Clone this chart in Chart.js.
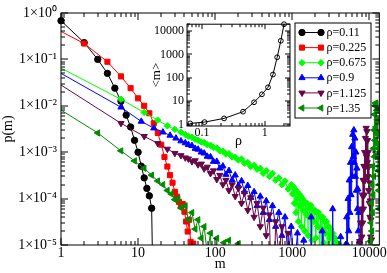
<!DOCTYPE html>
<html>
<head>
<meta charset="utf-8">
<script src="https://cdn.jsdelivr.net/npm/chart.js@4.4.1/dist/chart.umd.min.js"></script>
<style>
  body { margin: 0; background: #fff; }
  #wrap { position: relative; width: 387px; height: 273px; }
  #main { position: absolute; left: 0; top: 0; }
  #inset { position: absolute; left: 140px; top: 14px; }
</style>
</head>
<body>
<div id="wrap">
  <canvas id="main" width="387" height="273"></canvas>
  <canvas id="inset" width="155" height="136"></canvas>
</div>
<script>
// p(m) for each density
const m011 = [1,2,3,4,5,6,7,8,9,10,11,12,13,14,15,16];
const p011 = [0.68,0.23,0.10,0.050,0.024,0.0126,0.0063,0.0035,0.0018,0.0010,5.0e-4,2.8e-4,1.66e-4,1.15e-4,6.2e-5,1e-7];

const m0225 = [1,2,4,6,8,10,12,14,16,18,20,22,24,26,28,30,32,34,36,38,40,42,44,46,48,50,52,55];
const p0225 = [0.40,0.22,0.089,0.043,0.024,0.0145,0.010,0.0069,0.0042,0.0026,0.00145,7.9e-4,4.9e-4,3.2e-4,2.2e-4,1.4e-4,1.1e-4,8.5e-5,6.8e-5,7.6e-5,5.2e-5,3.2e-5,1.95e-5,3.5e-5,1.17e-5,5e-6,1.07e-5,1e-7];

const m0675 = [1,6,12,18,24,30,36,41,45,50,55,60,66,72,79,87,95,105,115,126,138,151,166,182,200,220,240,265,290,320,350,385,420,460,505,555,610,670,735,805,885,970,
    1010,1040,1065,1090,1120,1150,1170,1200,1230,1260,1290,1320,1350,1380,1410,1450,1490,1530,1570,1610,1650,1700,1750,1800,1850,1900,1960,2020,2080,2140,2200,2270,2340,2410,2480,2560,2640,2720,2800,2890,2980,3070,3160,3260,3360,3460,3570,3680,3800,3920,4050,4200,4400];
const p0675 = [0.065,0.0138,0.0072,0.0049,0.0037,0.0031,0.0027,0.0024,0.0022,0.0021,0.0019,0.0018,0.00166,0.00162,0.00145,0.00141,0.00126,0.00123,0.00107,0.00105,9.1e-4,9.3e-4,7.9e-4,7.8e-4,6.8e-4,7.1e-4,5.8e-4,6.0e-4,4.9e-4,5.2e-4,4.3e-4,4.5e-4,3.5e-4,4.0e-4,3.0e-4,3.5e-4,2.5e-4,2.8e-4,2.0e-4,2.4e-4,1.6e-4,2.0e-4,
    1.26e-4,1.78e-4,7.9e-5,1.58e-4,5.0e-5,1.41e-4,1.0e-4,3.2e-5,1.26e-4,7.1e-5,1.12e-4,2.5e-5,1.0e-4,5.6e-5,8.9e-5,2.0e-5,7.9e-5,4.5e-5,7.9e-5,1.6e-5,6.3e-5,4.0e-5,7.1e-5,1.26e-5,5.6e-5,3.2e-5,5.6e-5,1.41e-5,5.0e-5,2.5e-5,5.0e-5,6.3e-6,4.0e-5,2.2e-5,4.0e-5,1.12e-5,3.2e-5,1.78e-5,3.2e-5,5.0e-6,2.5e-5,1.41e-5,2.2e-5,7.9e-6,1.78e-5,1.0e-5,1.41e-5,4.0e-6,1.12e-5,6.3e-6,1.05e-5,3.2e-6,1e-7];

const m09 = [1,6,11,16,21,26,31,36,41,45,50,55,60,66,72,79,87,95,105,115,126,138,151,166,182,200,220,240,265,290,320,350,385,420,460,505,555,610,670,735,805,885,970,1065,1170,1285,1410,1550,1700,1760,1820,2400,2450,2500,3300,3350,3400,4200,4250,4300,
    4800,4900,5000,5100,5200,5300,5400,5500,5600,5700,5800,5900,6000,6100,6200,6300,6400,6500,6600,6700,6800,6900,7000,7100,7200,7300,7400,7500,7600];
const p09 = [0.050,0.0093,0.0046,0.0033,0.0027,0.0023,0.0020,0.00174,0.00158,0.00145,0.00138,0.0012,0.00115,0.0010,9.5e-4,8.1e-4,7.9e-4,6.3e-4,6.3e-4,4.5e-4,5.0e-4,3.3e-4,4.0e-4,2.5e-4,3.2e-4,1.9e-4,2.4e-4,1.4e-4,1.9e-4,1.05e-4,1.4e-4,7.0e-5,1.12e-4,5.0e-5,8.9e-5,3.5e-5,7.0e-5,2.5e-5,5.0e-5,1.6e-5,4.0e-5,5e-6,2.5e-5,3e-6,1.8e-5,1e-7,1.26e-5,1e-7,1e-7,4e-5,1e-7,1e-7,2e-5,1e-7,1e-7,6e-5,1e-7,1e-7,1.5e-5,1e-7,
    1e-7,1e-5,3e-6,4e-5,1e-5,1e-4,2e-5,2.5e-4,5e-5,6e-4,1.2e-4,1.3e-3,3e-4,2.4e-3,8e-4,3.0e-3,6e-4,2.0e-3,3e-4,1.0e-3,1.5e-4,4.5e-4,6e-5,1.6e-4,2e-5,5e-5,5e-6,1.2e-5,1e-7];

const m1125 = [1,6,12,18,24,30,36,41,45,50,55,60,66,72,79,87,95,105,115,126,138,151,166,182,200,220,240,265,290,320,350,385,420,460,505,555,610,670,735,805,885,950,
    7400,7500,7600,7700,7800,7900,8000,8100,8200,8300,8400,8500,8600,8700,8800,8900,9000,9100,9200,9300,9400,9500,9600,9700,9800,9900,10000,10100,10200,10300,10400,10500,10600,10700,10800];
const p1125 = [0.028,0.0042,0.0022,0.00155,0.00117,9.5e-4,8.5e-4,7.6e-4,7.2e-4,6.3e-4,6.6e-4,5.4e-4,5.6e-4,4.4e-4,4.8e-4,3.5e-4,4.0e-4,2.6e-4,3.2e-4,2.0e-4,2.5e-4,1.5e-4,2.0e-4,1.12e-4,1.66e-4,7.9e-5,1.32e-4,5.6e-5,1.05e-4,4.0e-5,7.9e-5,2.5e-5,6.3e-5,1.6e-5,4.5e-5,1e-7,3.2e-5,6.3e-6,2.5e-5,1e-7,1.8e-5,1e-7,
    1e-7,1.2e-5,3e-6,3e-5,8e-6,6e-5,1.5e-5,1.2e-4,3e-5,2.5e-4,6e-5,5e-4,1.2e-4,1.0e-3,2.5e-4,2.0e-3,5e-4,3.3e-3,8e-4,2.8e-3,6e-4,1.8e-3,3e-4,1.0e-3,1.5e-4,5e-4,8e-5,2.2e-4,4e-5,9e-5,1.5e-5,3.5e-5,6e-6,1.3e-5,1e-7];

const m135 = [1,3,6,9,12,15,18,21,24,27,30,33,36,41,45,50,55,60,66,72,79,87,95,105,115,130,150,165,200,210,
    10200,10300,10400,10500,10600,10700,10800,10900,11000,11100,11200,11300,11400,11500,11600,11700,11800,11900,12000,12100,12200,12300,12400,12500,12600,12700,12800,12900,13000,13100,13200,13300,13400,13500];
const p135 = [0.0081,0.0026,0.00107,6.5e-4,4.5e-4,3.2e-4,2.4e-4,2.0e-4,1.5e-4,1.26e-4,9.5e-5,1.0e-4,6.3e-5,7.0e-5,3.5e-5,5.0e-5,2.2e-5,3.5e-5,1.4e-5,2.5e-5,6.3e-6,1.8e-5,1e-7,1.4e-5,1e-7,1.12e-5,1.26e-5,1e-7,1.07e-5,1e-7,
    1e-7,1.2e-5,3e-6,3e-5,8e-6,8e-5,2e-5,2e-4,5e-5,5e-4,1.2e-4,1.2e-3,3e-4,3e-3,8e-4,6.5e-3,1.8e-3,1.0e-2,3e-3,1.15e-2,3.5e-3,1.1e-2,2.5e-3,8e-3,1.5e-3,5e-3,8e-4,2.5e-3,4e-4,1.2e-3,1.5e-4,5e-4,6e-5,2e-4];

const seriesLabels = ['ρ=0.11', 'ρ=0.225', 'ρ=0.675', 'ρ=0.9', 'ρ=1.125', 'ρ=1.35'];

// inset: <m> against rho
const rhoInset = [0.065,0.11,0.225,0.45,0.675,0.9,1.125,1.35,1.575,1.8,2.025];
const mMean = [1.1,1.25,1.8,3.5,8.9,19.5,39,138,760,3870,20000];

const xTicks = [1,10,100,1000,10000];
const xTickLabels = ['1','10','100','1000','10000'];
const yTicks = [1e-5,1e-4,1e-3,1e-2,1e-1,1];
const yTickLabels = ['1×10⁻⁵','1×10⁻⁴','1×10⁻³','1×10⁻²','1×10⁻¹','1×10⁰'];
const rhoTicks = [0.1,1];
const rhoTickLabels = ['0.1','1'];
const mMeanTicks = [1,10,100,1000,10000];
const mMeanTickLabels = ['1','10','100','1000','10000'];

Chart.defaults.font.family = '"Liberation Serif", "Times New Roman", serif';
Chart.defaults.color = '#000';

function makeSet(i, m, p, color, style, radius, rotation, firstMarker) {
    return {
        label: seriesLabels[i],
        data: m.map((v, k) => ({x: v, y: p[k]})),
        borderColor: color,
        backgroundColor: color,
        borderWidth: 1,
        pointStyle: style,
        pointRotation: rotation,
        pointRadius: ctx => (!firstMarker && ctx.dataIndex === 0) ? 0 : radius,
        pointBorderWidth: 1,
        pointBackgroundColor: color,
        pointBorderColor: color,
        legendRadius: radius,
        order: 5 - i,
        clip: firstMarker ? {left: 6, top: 0, right: 0, bottom: 0} : 0
    };
}

// inward ticks on all four sides plus the frame
function drawFrame(chart, majorLen, minorLen) {
    const {ctx, chartArea: a} = chart;
    ctx.save();
    ctx.strokeStyle = '#000';
    ctx.lineWidth = 1;
    ctx.beginPath();
    [chart.scales.x, chart.scales.y].forEach(s => {
        const lo = Math.floor(Math.log10(s.min)), hi = Math.ceil(Math.log10(s.max));
        for (let e = lo; e <= hi; e++) {
            for (let k = 1; k < 10; k++) {
                const v = k * Math.pow(10, e);
                if (v < s.min * 0.9999 || v > s.max * 1.0001) continue;
                const len = k === 1 ? majorLen : minorLen;
                const p = Math.round(s.getPixelForValue(v));
                if (s.isHorizontal()) {
                    ctx.moveTo(p, a.bottom); ctx.lineTo(p, a.bottom - len);
                    ctx.moveTo(p, a.top); ctx.lineTo(p, a.top + len);
                } else {
                    ctx.moveTo(a.left, p); ctx.lineTo(a.left + len, p);
                    ctx.moveTo(a.right, p); ctx.lineTo(a.right - len, p);
                }
            }
        }
    });
    ctx.stroke();
    ctx.strokeRect(a.left, a.top, a.right - a.left, a.bottom - a.top);
    ctx.restore();
}

const framePlugin = {
    id: 'frame',
    afterDatasetsDraw(chart, args, opts) { drawFrame(chart, opts.major, opts.minor); }
};

const boxLegend = {
    id: 'boxLegend',
    afterDraw(chart) {
        const ctx = chart.ctx;
        ctx.save();
        ctx.fillStyle = '#fff';
        ctx.fillRect(295, 23, 76, 95);
        ctx.strokeStyle = '#000';
        ctx.lineWidth = 1;
        ctx.strokeRect(295, 23, 76, 95);
        chart.data.datasets.forEach((ds, i) => {
            const y = 32.5 + i * 15.1;
            ctx.strokeStyle = ds.borderColor;
            ctx.fillStyle = ds.borderColor;
            ctx.beginPath();
            ctx.moveTo(302, y);
            ctx.lineTo(321, y);
            ctx.stroke();
            [302, 321].forEach(x => {
                if (Chart.helpers && Chart.helpers.drawPoint) {
                    Chart.helpers.drawPoint(ctx, {pointStyle: ds.pointStyle, radius: ds.legendRadius,
                        rotation: ds.pointRotation, borderWidth: 1}, x, y);
                }
            });
            ctx.fillStyle = '#000';
            ctx.font = '12px "Liberation Serif"';
            ctx.textBaseline = 'middle';
            ctx.textAlign = 'left';
            ctx.fillText(ds.label, 326.5, y + 0.5);
        });
        ctx.restore();
    }
};

new Chart(document.getElementById('main'), {
    type: 'line',
    data: {
        datasets: [
            makeSet(0, m011, p011, '#000000', 'circle', 3.2, 0, true),
            makeSet(1, m0225, p0225, '#ff0000', 'rect', 3.6, 0, false),
            makeSet(2, m0675, p0675, '#00ff00', 'rectRot', 3.2, 0, false),
            makeSet(3, m09, p09, '#0000ff', 'triangle', 3.6, 0, false),
            makeSet(4, m1125, p1125, '#670748', 'triangle', 3.6, 180, false),
            makeSet(5, m135, p135, '#008b00', 'triangle', 3.6, 270, false)
        ]
    },
    options: {
        responsive: false,
        animation: false,
        events: [],
        layout: { padding: { top: 13, right: 6, left: 0, bottom: 0 } },
        plugins: {
            legend: { display: false },
            tooltip: { enabled: false },
            frame: { major: 7, minor: 4 }
        },
        scales: {
            x: {
                type: 'logarithmic',
                min: 1,
                max: 13500,
                afterBuildTicks: s => { s.ticks = xTicks.map(v => ({value: v})); },
                afterFit: s => { s.height = 28; },
                grid: { display: false, drawTicks: false },
                border: { display: false },
                ticks: { autoSkip: false, maxRotation: 0, padding: 0, font: { size: 14 },
                    callback: (v, i) => xTickLabels[i] },
                title: { display: true, text: 'm', font: { size: 14 }, padding: 0 }
            },
            y: {
                type: 'logarithmic',
                min: 1e-5,
                max: 1,
                afterBuildTicks: s => { s.ticks = yTicks.map(v => ({value: v})); },
                afterFit: s => { s.width = 61; },
                grid: { display: false, drawTicks: false },
                border: { display: false },
                ticks: { autoSkip: false, padding: 4, font: { size: 14 },
                    callback: (v, i) => yTickLabels[i] },
                title: { display: true, text: 'p(m)', font: { size: 14 }, padding: 0 }
            }
        }
    },
    plugins: [framePlugin, boxLegend]
});

const whiteArea = {
    id: 'whiteArea',
    beforeDraw(chart) {
        const {ctx, chartArea: a} = chart;
        ctx.save();
        ctx.fillStyle = '#fff';
        ctx.fillRect(a.left, a.top, a.right - a.left, a.bottom - a.top);
        ctx.restore();
    }
};

new Chart(document.getElementById('inset'), {
    type: 'line',
    data: {
        datasets: [{
            data: rhoInset.map((v, k) => ({x: v, y: mMean[k]})),
            borderColor: '#000',
            borderWidth: 1,
            pointStyle: 'circle',
            pointRadius: 2.4,
            pointBorderWidth: 1,
            pointBorderColor: '#000',
            pointBackgroundColor: 'rgba(0,0,0,0)',
            clip: false
        }]
    },
    options: {
        responsive: false,
        animation: false,
        events: [],
        layout: { padding: { top: 9, right: 5, left: 0, bottom: 0 } },
        plugins: {
            legend: { display: false },
            tooltip: { enabled: false },
            frame: { major: 5, minor: 3 }
        },
        scales: {
            x: {
                type: 'logarithmic',
                min: 0.0578,
                max: 2.52,
                afterBuildTicks: s => { s.ticks = rhoTicks.map(v => ({value: v})); },
                afterFit: s => { s.height = 24; },
                grid: { display: false, drawTicks: false },
                border: { display: false },
                ticks: { autoSkip: false, maxRotation: 0, padding: 0, font: { size: 12 },
                    callback: (v, i) => rhoTickLabels[i] },
                title: { display: true, text: 'ρ', font: { size: 14 }, padding: 0 }
            },
            y: {
                type: 'logarithmic',
                min: 0.85,
                max: 20000,
                afterBuildTicks: s => { s.ticks = mMeanTicks.map(v => ({value: v})); },
                afterFit: s => { s.width = 47; },
                grid: { display: false, drawTicks: false },
                border: { display: false },
                ticks: { autoSkip: false, padding: 3, font: { size: 12 },
                    callback: (v, i) => mMeanTickLabels[i] },
                title: { display: true, text: '<m>', font: { size: 13 }, padding: { top: 9 } }
            }
        }
    },
    plugins: [whiteArea, framePlugin]
});
</script>
</body>
</html>
